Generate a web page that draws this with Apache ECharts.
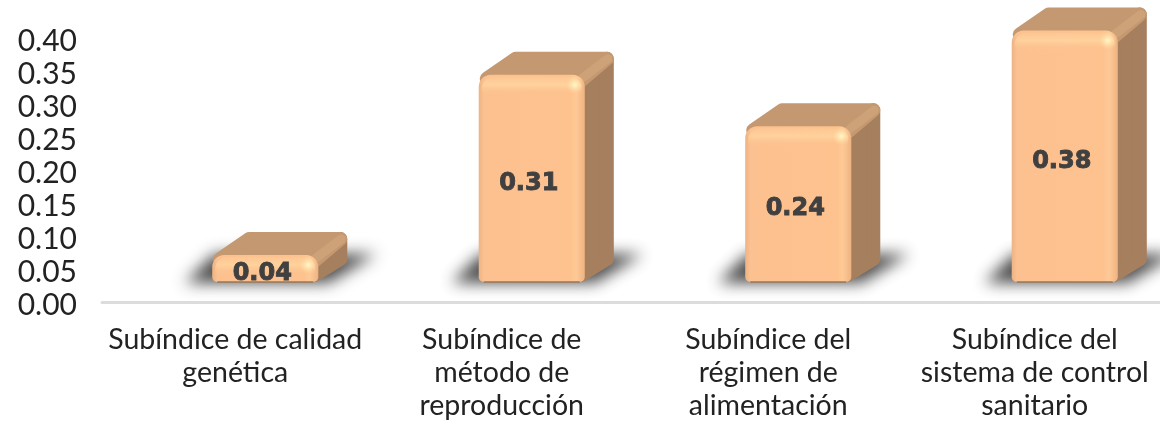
<!DOCTYPE html>
<html>
<head>
<meta charset="utf-8">
<script src="https://cdn.jsdelivr.net/npm/echarts@6/dist/echarts.min.js"></script>
<style>
  html, body { margin: 0; padding: 0; background: #fff; overflow: hidden; }
  #chart { width: 1160px; height: 422px; }
</style>
</head>
<body>
<div id="chart"></div>
<script>
const categories = [
  'Subíndice de calidad\ngenética',
  'Subíndice de\nmétodo de\nreproducción',
  'Subíndice del\nrégimen de\nalimentación',
  'Subíndice del\nsistema de control\nsanitario'
];
const values = [0.041, 0.314, 0.236, 0.381];

// desplazamiento de la cara frontal respecto al eje (efecto 3D)
const offsetX = 30;
const offsetY = 20;
const depthX = 29;
const depthY = 23;

const chart = echarts.init(document.getElementById('chart'));

function renderBar(params, api) {
  const value = api.value(1);
  const base = api.coord([api.value(0), 0]);
  const top = api.coord([api.value(0), value]);
  const w = api.size([1, 0])[0] * 0.398;
  const x0 = base[0] + offsetX - w / 2;
  const x1 = x0 + w;
  const yb = base[1] - offsetY;
  const yt = top[1] - offsetY;
  const h = yb - yt;
  const r = Math.min(12, h / 2);
  const j = 7; // radio de las esquinas de las caras laterales
  const far = 3000; // la forma queda fuera del lienzo, solo se ve su sombra

  return {
    type: 'group',
    children: [
      // sombra sobre el piso
      {
        type: 'polygon',
        x: -far,
        shape: { points: [[x0 - 27, yb + 1], [x1 + 10, yb + 1], [x1 + 58, yb - 28], [x0 + 2, yb - 28]] },
        style: { fill: '#000', shadowBlur: 15, shadowColor: 'rgba(55,55,55,0.9)', shadowOffsetX: far }
      },
      // cara lateral
      {
        type: 'polygon',
        shape: { points: [[x1 - 4, yt + 8], [x1 + depthX - j, yt - depthY + j], [x1 + depthX - j, yb - depthY], [x1 - 4, yb - j]] },
        style: { fill: '#a67f5e', stroke: '#a67f5e', lineWidth: j * 2, lineJoin: 'round' }
      },
      // cara superior
      {
        type: 'polygon',
        shape: { points: [[x0 + 8, yt + 4], [x0 + depthX + 8, yt - depthY + j], [x1 + depthX - j, yt - depthY + j], [x1 - 4, yt + 6]] },
        style: { fill: '#c49870', stroke: '#c49870', lineWidth: j * 2, lineJoin: 'round' }
      },
      // arista superior derecha
      {
        type: 'line',
        shape: { x1: x1 - 2, y1: yt + 3, x2: x1 + depthX - 6, y2: yt - depthY + 7 },
        style: { stroke: '#d2a67c', lineWidth: 9, lineCap: 'round', opacity: 0.7 }
      },
      // cara frontal
      {
        type: 'rect',
        shape: { x: x0, y: yt, width: w, height: h, r: [r, r, 5, 5] },
        style: {
          fill: new echarts.graphic.LinearGradient(0, 0, 1, 0, [
            { offset: 0, color: '#eeb382' },
            { offset: 0.05, color: '#fcc190' },
            { offset: 0.86, color: '#fdc28e' },
            { offset: 0.92, color: '#fec996' },
            { offset: 1, color: '#eeb382' }
          ])
        }
      },
      // brillo superior
      {
        type: 'rect',
        shape: { x: x0 + 3, y: yt + 2, width: w - 6, height: Math.min(18, h - 4), r: [r, r, 2, 2] },
        style: {
          fill: new echarts.graphic.LinearGradient(0, 0, 0, 1, [
            { offset: 0, color: 'rgba(255,214,160,0.2)' },
            { offset: 0.45, color: 'rgba(255,214,160,0.8)' },
            { offset: 1, color: 'rgba(253,194,142,0)' }
          ])
        }
      },
      // punto de luz en la esquina
      {
        type: 'circle',
        shape: { cx: x1 - 10, cy: yt + 10, r: 9 },
        style: {
          fill: new echarts.graphic.RadialGradient(0.5, 0.5, 0.5, [
            { offset: 0, color: 'rgba(255,248,200,1)' },
            { offset: 1, color: 'rgba(255,220,160,0)' }
          ])
        }
      },
      // sombra inferior del frente
      {
        type: 'line',
        shape: { x1: x0 + 5, y1: yb, x2: x1 - 5, y2: yb },
        style: { stroke: '#9a7658', lineWidth: 1.5 }
      },
      // etiqueta
      {
        type: 'text',
        x: (x0 + x1) / 2 - 3,
        y: (yt + yb) / 2 + 5,
        style: {
          text: value.toFixed(2),
          font: 'bold 24px "DejaVu Sans"',
          fill: '#404040',
          stroke: '#404040',
          lineWidth: 0.9,
          align: 'center',
          verticalAlign: 'middle'
        }
      }
    ]
  };
}

const option = {
  animation: false,
  grid: { left: 102, width: 1066, top: 38, bottom: 120, outerBoundsMode: 'none' },
  xAxis: {
    type: 'category',
    data: categories,
    axisLine: { lineStyle: { color: '#dcdcdc', width: 3 } },
    axisTick: { show: false },
    axisLabel: {
      interval: 0,
      margin: 21,
      color: '#222',
      fontFamily: 'Lato',
      fontSize: 28.5,
      lineHeight: 33
    }
  },
  yAxis: {
    type: 'value',
    min: 0,
    max: 0.4,
    interval: 0.05,
    axisLine: { show: false },
    axisTick: { show: false },
    splitLine: { show: false },
    axisLabel: {
      margin: 25,
      color: '#222',
      fontFamily: 'Lato',
      fontSize: 30,
      verticalAlign: 'top',
      lineHeight: 6,
      formatter: (v) => v.toFixed(2)
    }
  },
  series: [{
    type: 'custom',
    clip: false,
    encode: { x: 0, y: 1 },
    data: values.map((v, i) => [i, v]),
    renderItem: renderBar
  }]
};

chart.setOption(option);
</script>
</body>
</html>
